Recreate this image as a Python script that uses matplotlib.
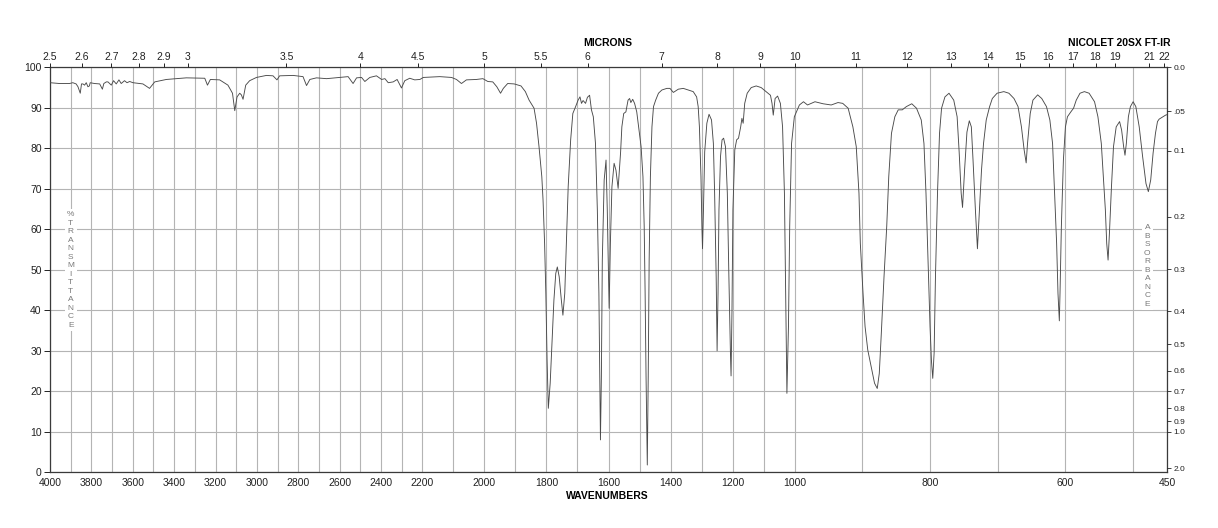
import numpy as np
import matplotlib
matplotlib.use('Agg')
import matplotlib.pyplot as plt

plt.rcParams['font.family'] = ['Liberation Sans', 'DejaVu Sans']

# IR spectrum: wavenumber (cm-1) and % transmittance
wavenumbers = [
    4000, 3954, 3906, 3890, 3874, 3865, 3854, 3848, 3841, 3833, 3825, 3817, 3810, 3806,
    3785, 3760, 3747, 3740, 3728, 3720, 3704, 3693, 3680, 3667, 3656, 3640, 3628, 3615,
    3599, 3551, 3519, 3494, 3438, 3341, 3252, 3239, 3225, 3180, 3140, 3118, 3107, 3096,
    3083, 3075, 3067, 3054, 3035, 3002, 2954, 2922, 2903, 2890, 2825, 2777, 2760, 2744,
    2712, 2663, 2599, 2559, 2535, 2518, 2494, 2478, 2454, 2422, 2397, 2381, 2365, 2341,
    2322, 2301, 2285, 2261, 2237, 2212, 2197, 2144,
    2106, 2090, 2074, 2058, 2026, 2005, 1989, 1973, 1960, 1948, 1939, 1925, 1904, 1882,
    1868, 1856, 1840, 1832, 1824, 1815, 1811, 1806, 1802, 1798, 1794, 1788, 1781, 1776,
    1770, 1765, 1759, 1752, 1747, 1741, 1736, 1730, 1722, 1715, 1706, 1698, 1692, 1687,
    1682, 1674, 1668, 1661, 1655, 1649, 1642, 1636, 1631, 1628, 1626, 1623, 1620, 1614,
    1608, 1604, 1598, 1594, 1589, 1582, 1576, 1569,
    1561, 1557, 1551, 1544, 1537, 1532, 1528, 1522, 1516, 1509, 1503, 1495, 1489, 1485,
    1482, 1479, 1475, 1472, 1469, 1465, 1460, 1455, 1448, 1439, 1428, 1412, 1402, 1391,
    1375, 1359, 1343, 1327, 1316, 1311, 1307, 1302, 1299, 1297, 1294, 1290, 1283, 1276,
    1268, 1262, 1258, 1253, 1250, 1247, 1244, 1239, 1234, 1229, 1223, 1217, 1212, 1207,
    1205, 1202, 1199, 1193, 1187, 1181, 1174, 1170, 1166, 1161, 1153, 1140, 1124, 1108,
    1092, 1078, 1073, 1069, 1063, 1055, 1046, 1039, 1033, 1029, 1025, 1020, 1016, 1010,
    1001, 996,
    993, 987, 981, 970, 958, 946, 936, 929, 921, 914, 909, 905, 903, 899, 896, 892, 887,
    882, 878, 875, 872, 868, 864, 861, 857, 852, 847, 841, 835, 827, 820, 813, 809, 806,
    803, 800, 798, 796, 794, 792, 789, 786, 783, 778, 772, 765, 760, 757, 754, 752, 749,
    745.5, 742, 739, 736.5, 733, 730, 727, 724, 721, 717, 712, 708, 701, 691, 683.5, 676,
    670, 665, 661, 658, 656, 652, 648, 641, 635, 628, 623, 619, 616, 613, 611, 609, 608,
    606, 603, 600, 597, 592, 588, 584, 578.5, 572, 565, 557, 552, 547, 544, 541, 539, 537,
    535, 532, 529, 525, 520, 517, 514, 512, 510, 507, 504, 500, 496, 491, 486, 481, 477.5,
    474, 470.5, 467, 464, 461.6, 456, 452, 450,
]
transmittance = [
    96.2, 96.0, 96.0, 96.2, 95.9, 95.2, 93.6, 95.9, 95.9, 95.6, 96.2, 95.2, 95.4, 96.2,
    96.0, 95.9, 94.6, 96.0, 96.4, 96.4, 95.6, 96.7, 95.9, 96.9, 96.0, 96.7, 96.2, 96.5,
    96.2, 95.9, 94.8, 96.4, 97.0, 97.4, 97.3, 95.6, 97.0, 96.9, 95.6, 93.6, 89.3, 92.7,
    93.6, 93.2, 92.1, 95.6, 96.7, 97.5, 98.0, 97.9, 96.9, 97.9, 98.0, 97.7, 95.5, 97.0,
    97.4, 97.2, 97.5, 97.7, 96.0, 97.4, 97.5, 96.5, 97.5, 97.9, 97.0, 97.2, 96.2, 96.4,
    97.0, 94.9, 96.7, 97.3, 96.9, 97.0, 97.5, 97.7,
    97.5, 97.0, 96.0, 96.9, 97.0, 97.2, 96.5, 96.4, 95.2, 93.6, 94.8, 96.0, 95.9, 95.4,
    94.0, 91.9, 89.9, 86.2, 80.4, 73.0, 67.2, 56.5, 44.2, 27.7, 15.8, 22.0, 34.3, 42.5,
    49.1, 50.7, 48.3, 42.5, 38.8, 44.2, 56.5, 70.5, 82.1, 88.6, 90.3, 91.9, 92.7, 91.1,
    91.8, 91.1, 92.6, 93.1, 89.5, 87.8, 81.2, 64.8, 44.2, 23.6, 8.0, 23.6, 52.4, 72.2,
    77.1, 64.8, 40.5, 56.5, 70.5, 76.3, 74.6, 70.1,
    79.1, 85.3, 88.6, 89.0, 91.9, 92.3, 91.3, 92.1, 91.1, 89.0, 85.3, 80.4, 73.0, 60.7,
    44.2, 23.6, 1.8, 23.6, 52.4, 73.0, 85.3, 90.3, 91.9, 93.6, 94.4, 94.8, 94.8, 93.8,
    94.6, 94.8, 94.4, 94.0, 92.7, 90.3, 85.3, 73.0, 60.7, 55.2, 64.8, 79.1, 86.2, 88.4,
    87.0, 81.2, 68.9, 48.3, 30.0, 44.2, 64.8, 78.0, 82.1, 82.5, 80.4, 68.9, 48.3, 29.4,
    23.8, 40.1, 64.8, 79.6, 82.1, 82.5, 85.3, 87.4, 86.2, 91.1, 93.6, 95.0, 95.4, 95.0,
    94.0, 93.1, 91.1, 88.2, 92.3, 92.9, 91.1, 85.3, 68.9, 44.2, 19.5, 36.0, 60.7, 81.2,
    87.8, 89.5,
    90.7, 91.5, 90.7, 91.5, 91.0, 90.7, 91.3, 91.1, 89.9, 85.3, 80.4, 68.9, 56.5, 44.2,
    36.0, 30.2, 26.1, 22.0, 20.7, 24.4, 34.3, 48.3, 60.7, 73.0, 83.7, 87.8, 89.5, 89.5,
    90.3, 91.0, 89.9, 87.0, 81.2, 68.9, 52.4, 36.0, 27.7, 23.2, 29.4, 48.3, 68.9, 83.7,
    89.9, 92.7, 93.6, 91.9, 87.8, 79.1, 68.9, 65.4, 74.6, 84.0, 86.8, 85.3, 77.1, 64.8,
    55.2, 64.8, 74.6, 81.2, 87.0, 90.3, 92.3, 93.6, 94.0, 93.6, 92.3, 90.3, 85.3, 79.6,
    76.4, 81.2, 88.6, 91.9, 93.2, 92.3, 90.3, 87.0, 81.2, 68.9, 56.5, 44.2, 37.4, 44.2,
    60.7, 77.1, 85.3, 87.8, 89.0, 89.9, 91.9, 93.6, 94.0, 93.6, 91.5, 87.8, 81.2, 73.0,
    64.8, 56.5, 52.4, 59.0, 70.5, 80.4, 85.3, 86.6, 84.5, 80.4, 78.3, 81.2, 87.8, 90.3,
    91.5, 90.3, 85.3, 78.0, 71.3, 69.3, 72.2, 78.8, 83.7, 86.6, 87.2, 87.8, 88.2, 88.3,
]

wn_ticks = [4000, 3800, 3600, 3400, 3200, 3000, 2800, 2600, 2400, 2200,
            2000, 1800, 1600, 1400, 1200, 1000, 800, 600, 450]
micron_ticks = [2.5, 2.6, 2.7, 2.8, 2.9, 3, 3.5, 4, 4.5, 5, 5.5, 6, 7, 8, 9, 10,
                11, 12, 13, 14, 15, 16, 17, 18, 19, 21, 22]
micron_labels = ['2.5', '2.6', '2.7', '2.8', '2.9', '3', '3.5', '4', '4.5', '5', '5.5',
                 '6', '7', '8', '9', '10', '11', '12', '13', '14', '15', '16', '17',
                 '18', '19', '21', '22']
abs_ticks = [0.0, 0.05, 0.1, 0.2, 0.3, 0.4, 0.5, 0.6, 0.7, 0.8, 0.9, 1.0, 2.0]
abs_labels = ['0.0', '.05', '0.1', '0.2', '0.3', '0.4', '0.5', '0.6', '0.7', '0.8',
              '0.9', '1.0', '2.0']

# chart paper: three equal-width panels 4000-2200, 2200-1000, 1000-450
breaks = [450, 1000, 2200, 4000]
units = [0, 1, 2, 3]


def fwd(w):
    return np.interp(w, breaks, units)


def inv(u):
    return np.interp(u, units, breaks)


grid_c = '#b4b4b4'
spine_c = '#3a3a3a'

fig = plt.figure(figsize=(12.18, 5.28), dpi=100)
ax = fig.add_axes([0.0411, 0.1055, 0.9170, 0.7670])
ax.set_xscale('function', functions=(fwd, inv))
ax.set_xlim(4000, 450)
ax.set_ylim(0, 100)

ax.plot(wavenumbers, transmittance, color='#4a4a4a', lw=0.65, zorder=3)

ax.set_xticks(wn_ticks)
ax.set_xticklabels([str(t) for t in wn_ticks])
ax.set_xticks(np.arange(500, 4000, 100), minor=True)
ax.set_yticks(np.arange(0, 101, 10))
ax.grid(True, which='both', axis='x', color=grid_c, lw=0.8)
ax.grid(True, which='major', axis='y', color=grid_c, lw=0.8)
ax.tick_params(axis='x', which='both', length=0, labelsize=7.5, pad=4, colors='#222222')
ax.tick_params(axis='y', length=4, width=0.7, labelsize=7.5, pad=2, colors='#222222')
for s in ax.spines.values():
    s.set_color(spine_c)
    s.set_linewidth(0.9)

# top axis in microns
ax_top = ax.twiny()
ax_top.set_xscale('function', functions=(fwd, inv))
ax_top.set_xlim(4000, 450)
ax_top.set_xticks([1e4 / m for m in micron_ticks])
ax_top.set_xticklabels(micron_labels)
ax_top.tick_params(axis='x', length=3, width=0.7, labelsize=7.5, pad=1, colors='#222222')
ax_top.minorticks_off()

# right axis in absorbance
ax_r = ax.twinx()
ax_r.set_ylim(0, 100)
ax_r.set_yticks([100 * 10 ** (-a) for a in abs_ticks])
ax_r.set_yticklabels(abs_labels)
ax_r.tick_params(axis='y', length=3, width=0.6, labelsize=6, pad=1.5, colors='#222222')
for a2 in (ax_top, ax_r):
    for s in a2.spines.values():
        s.set_visible(False)

box = dict(fc='white', ec='none', pad=1.5)
ax.text(3900, 50, '\n'.join('%TRANSMITTANCE'), ha='center', va='center',
        fontsize=6, color='#7a7a7a', linespacing=1.3, bbox=box, zorder=2)
ax.text(479, 51, '\n'.join('ABSORBANCE'), ha='center', va='center',
        fontsize=6, color='#7a7a7a', linespacing=1.3, bbox=box, zorder=2)

fig.text(0.499, 0.9186, 'MICRONS', ha='center', va='center', fontsize=7.5, fontweight='bold')
fig.text(0.9606, 0.9186, 'NICOLET 20SX FT-IR', ha='right', va='center',
         fontsize=7.5, fontweight='bold')
fig.text(0.499, 0.0606, 'WAVENUMBERS', ha='center', va='center', fontsize=7.5, fontweight='bold')

fig.savefig('out.png', dpi=100)
